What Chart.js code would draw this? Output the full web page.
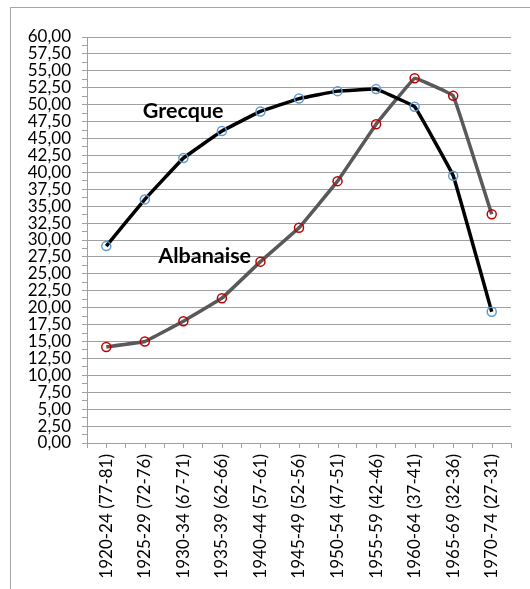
<!DOCTYPE html>
<html>
<head>
<meta charset="utf-8">
<script src="https://cdn.jsdelivr.net/npm/chart.js@4/dist/chart.umd.min.js"></script>
<style>
html, body { margin: 0; padding: 0; background: #fff; overflow: hidden; }
#wrap { position: relative; width: 530px; height: 589px; }
#frame { position: absolute; left: 10px; top: 7px; width: 580px; height: 640px; border: 1px solid #a6a6a6; }
canvas { position: absolute; left: 0; top: 0; }
</style>
</head>
<body>
<div id="wrap">
  <div id="frame"></div>
  <canvas id="myChart" width="530" height="589"></canvas>
</div>
<script>
var periods = ['1920-24 (77-81)', '1925-29 (72-76)', '1930-34 (67-71)', '1935-39 (62-66)',
    '1940-44 (57-61)', '1945-49 (52-56)', '1950-54 (47-51)', '1955-59 (42-46)',
    '1960-64 (37-41)', '1965-69 (32-36)', '1970-74 (27-31)'];
var grecque = [29.1, 36.0, 42.1, 46.1, 49.0, 50.9, 52.0, 52.3, 49.7, 39.5, 19.4];
var albanaise = [14.2, 15.0, 18.0, 21.4, 26.8, 31.8, 38.7, 47.1, 53.9, 51.3, 33.8];
var yMin = 0, yMax = 60, yStep = 1.25;

var gridGrey = '#a0a0a0';
var font = 'Lato';

// text labels in the plot + small ticks at category centers
var extras = {
    id: 'extras',
    afterDraw: function(chart) {
        var c = chart.ctx;
        var xs = chart.scales.x, ys = chart.scales.y;
        c.save();
        c.strokeStyle = gridGrey;
        c.lineWidth = 1;
        for (var i = 0; i < periods.length; i++) {
            var px = Math.round(xs.getPixelForValue(i)) + 0.5;
            c.beginPath();
            c.moveTo(px, ys.bottom);
            c.lineTo(px, ys.bottom + 5);
            c.stroke();
        }
        c.fillStyle = '#000';
        c.font = 'bold 21.5px ' + font;
        c.textBaseline = 'alphabetic';
        c.fillText('Grecque', xs.getPixelForValue(1) - 2, ys.getPixelForValue(48.1));
        c.fillText('Albanaise', xs.getPixelForValue(1.35), ys.getPixelForValue(26.6));
        c.restore();
    }
};

var ctx = document.getElementById('myChart').getContext('2d');
var myChart = new Chart(ctx, {
    type: 'line',
    data: {
        labels: periods,
        datasets: [{
            label: 'Grecque',
            data: grecque,
            borderColor: '#000000',
            borderWidth: 3.5,
            tension: 0.05,
            pointRadius: 4.5,
            pointBorderWidth: 1.5,
            pointBorderColor: '#5b9bd5',
            pointBackgroundColor: 'rgba(0,0,0,0)',
            order: 1
        },
        {
            label: 'Albanaise',
            data: albanaise,
            borderColor: '#595959',
            borderWidth: 3.5,
            tension: 0.05,
            pointRadius: 4.5,
            pointBorderWidth: 1.5,
            pointBorderColor: '#c00000',
            pointBackgroundColor: 'rgba(0,0,0,0)',
            order: 2
        }]
    },
    options: {
        responsive: false,
        animation: false,
        layout: { padding: { top: 37, right: 19, left: 0, bottom: 0 } },
        plugins: {
            legend: { display: false },
            tooltip: { enabled: false }
        },
        scales: {
            x: {
                offset: true,
                afterFit: function(s) { s.height = 146; },
                border: { color: gridGrey, width: 1 },
                grid: { offset: true, drawOnChartArea: false, tickLength: 5, color: gridGrey },
                ticks: {
                    minRotation: 90, maxRotation: 90, autoSkip: false, padding: 6,
                    color: '#000', font: { family: font, size: 17 }
                }
            },
            y: {
                min: yMin,
                max: yMax,
                afterFit: function(s) { s.width = 87; },
                border: { color: gridGrey, width: 1 },
                grid: {
                    tickLength: 5,
                    color: function(c) {
                        return (Math.round(c.tick.value / yStep) % 2 === 0) ? gridGrey : 'rgba(0,0,0,0)';
                    },
                    tickColor: gridGrey
                },
                ticks: {
                    stepSize: yStep,
                    autoSkip: false,
                    padding: 11,
                    color: '#000',
                    font: { family: font, size: 17 },
                    callback: function(v) {
                        if (Math.round(v / yStep) % 2 !== 0) return '';
                        return v.toFixed(2).replace('.', ',');
                    }
                }
            }
        }
    },
    plugins: [extras]
});
</script>
</body>
</html>
